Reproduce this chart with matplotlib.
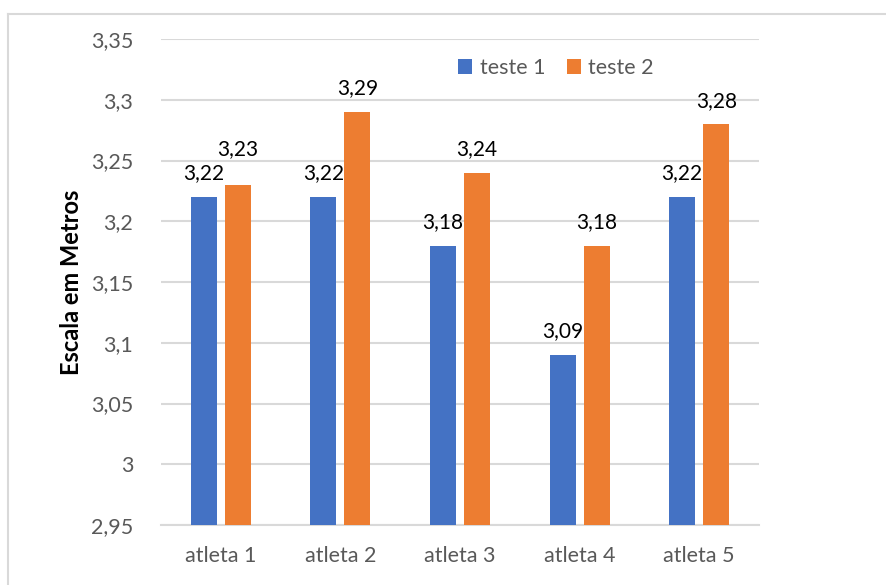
import matplotlib
matplotlib.use("Agg")
import matplotlib.pyplot as plt
import numpy as np
from matplotlib.lines import Line2D

categories = ["atleta 1", "atleta 2", "atleta 3", "atleta 4", "atleta 5"]
teste1 = [3.22, 3.22, 3.18, 3.09, 3.22]
teste2 = [3.23, 3.29, 3.24, 3.18, 3.28]
yticks = [2.95, 3.0, 3.05, 3.1, 3.15, 3.2, 3.25, 3.3, 3.35]
ytick_labels = ["2,95", "3", "3,05", "3,1", "3,15", "3,2", "3,25", "3,3", "3,35"]

plt.rcParams['font.family'] = ['Lato', 'DejaVu Sans']

W, H = 887, 585
fig = plt.figure(figsize=(W / 100, H / 100), dpi=100)
ax = fig.add_axes([161 / W, 1 - 525 / H, (759 - 161) / W, (525 - 39) / H])

x = np.arange(len(categories))
bw = 0.217
off = 0.142
blue = "#4472C4"
orange = "#ED7D31"
ax.bar(x - off, np.array(teste1) - 2.95, bw, bottom=2.95, color=blue, label="teste 1", zorder=3)
ax.bar(x + off, np.array(teste2) - 2.95, bw, bottom=2.95, color=orange, label="teste 2", zorder=3)

base = 0.011
for xi, v1, v2 in zip(x, teste1, teste2):
    ax.text(xi - off, v1 + base, f"{v1:.2f}".replace(".", ","), ha="center", va="bottom",
            fontsize=15, color="black")
    # lift the second label when it would collide with the first (as Excel does)
    extra = 0.0
    if abs(v2 - v1) < 0.02:
        extra = 0.02 - (v2 - v1)
    ax.text(xi + off, v2 + base + extra, f"{v2:.2f}".replace(".", ","), ha="center", va="bottom",
            fontsize=15, color="black")

ax.set_xlim(-0.5, 4.5)
ax.set_ylim(2.95, 3.35)
ax.set_yticks(yticks)
ax.set_yticklabels(ytick_labels)
ax.set_xticks(x)
ax.set_xticklabels(categories)
ax.tick_params(axis="both", length=0, labelsize=15.5, colors="#595959")
ax.tick_params(axis="y", pad=20)
ax.tick_params(axis="x", pad=15)
ax.grid(axis="y", color="#d9d9d9", linewidth=1.5, zorder=0)
for s in ("top", "right", "left"):
    ax.spines[s].set_visible(False)
ax.spines["bottom"].set_color("#d9d9d9")
ax.spines["bottom"].set_linewidth(1.5)

ax.set_ylabel("Escala em Metros", fontsize=17, fontweight="bold", color="black")
ax.yaxis.set_label_coords((83 - 161) / (759 - 161), 0.5)

ax.legend(loc="center", bbox_to_anchor=((556 - 161) / (759 - 161), (525 - 68) / (525 - 39)),
          ncol=2, frameon=False, fontsize=15.5, handlelength=0.65, handleheight=0.65,
          handletextpad=0.35, columnspacing=1.0, labelcolor="#595959")

# outer frame (clipped at right and bottom)
fig.add_artist(Line2D([8 / W, 1.0], [1 - 14 / H, 1 - 14 / H], color="#d9d9d9", lw=1.5,
                      transform=fig.transFigure))
fig.add_artist(Line2D([8 / W, 8 / W], [0.0, 1 - 14 / H], color="#d9d9d9", lw=1.5,
                      transform=fig.transFigure))

fig.savefig("out.png", dpi=100)
